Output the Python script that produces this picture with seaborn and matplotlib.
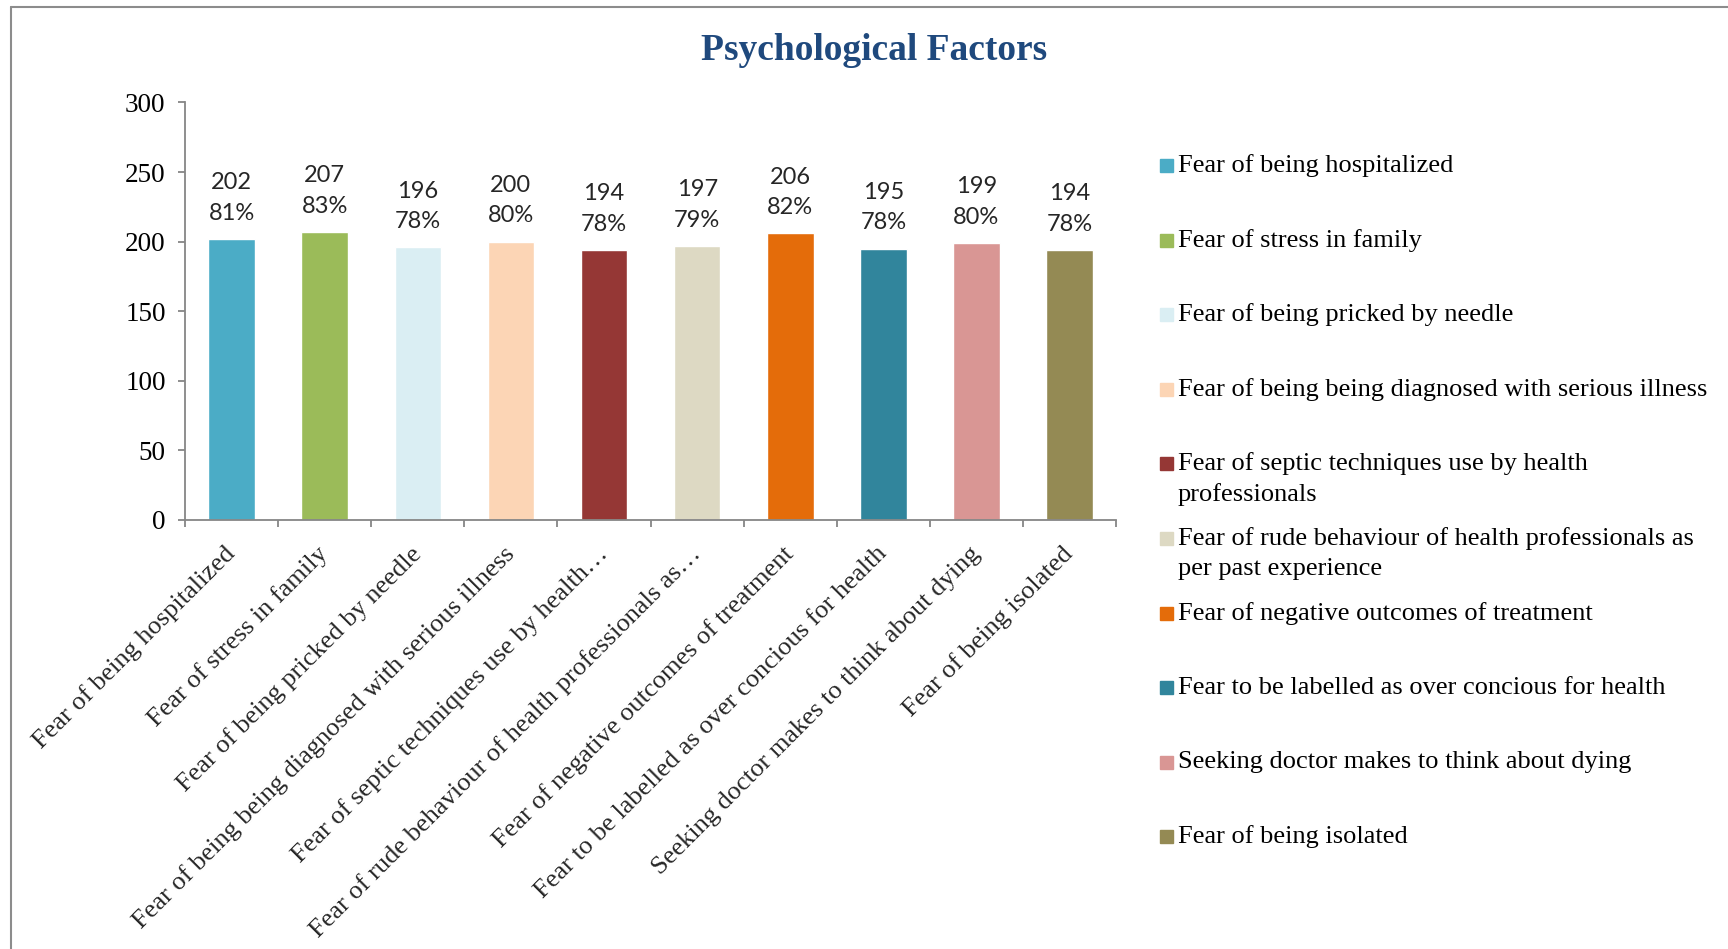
import matplotlib
matplotlib.use("Agg")
import matplotlib.pyplot as plt
import pandas as pd
import seaborn as sns
from matplotlib.lines import Line2D
from matplotlib.patches import Rectangle

# data
factors = [
    "Fear of being hospitalized",
    "Fear of stress in family",
    "Fear of being pricked by needle",
    "Fear of being being diagnosed with serious illness",
    "Fear of septic techniques use by health professionals",
    "Fear of rude behaviour of health professionals as per past experience",
    "Fear of negative outcomes of treatment",
    "Fear to be labelled as over concious for health",
    "Seeking doctor makes to think about dying",
    "Fear of being isolated",
]
counts = [202, 207, 196, 200, 194, 197, 206, 195, 199, 194]
percents = [81, 83, 78, 80, 78, 79, 82, 78, 80, 78]
tick_labels = [
    "Fear of being hospitalized",
    "Fear of stress in family",
    "Fear of being pricked by needle",
    "Fear of being being diagnosed with serious illness",
    "Fear of septic techniques use by health\u2026",
    "Fear of rude behaviour of health professionals as\u2026",
    "Fear of negative outcomes of treatment",
    "Fear to be labelled as over concious for health",
    "Seeking doctor makes to think about dying",
    "Fear of being isolated",
]
legend_labels = [
    "Fear of being hospitalized",
    "Fear of stress in family",
    "Fear of being pricked by needle",
    "Fear of being being diagnosed with serious illness",
    "Fear of septic techniques use by health\nprofessionals",
    "Fear of rude behaviour of health professionals as\nper past experience",
    "Fear of negative outcomes of treatment",
    "Fear to be labelled as over concious for health",
    "Seeking doctor makes to think about dying",
    "Fear of being isolated",
]
colors = ["#4BACC6", "#9BBB59", "#DAEEF3", "#FCD5B5", "#953735",
          "#DDD9C3", "#E46C0A", "#31859C", "#D99694", "#948A54"]

sns.set_theme(style="white")
plt.rcParams["font.family"] = ["Liberation Serif", "DejaVu Serif"]

df = pd.DataFrame({"factor": factors, "count": counts, "pct": percents})

fig = plt.figure(figsize=(17.28, 9.49), dpi=100)
ax = fig.add_axes([0.1071, 0.4521, 0.5388, 0.4399])

sns.barplot(data=df, x="factor", y="count", hue="factor", palette=colors,
            width=0.5, saturation=1, legend=False, ax=ax)

ax.set_xlim(-0.5, 9.5)
ax.set_ylim(0, 300)
ax.set_yticks(range(0, 301, 50))
ax.set_xlabel("")
ax.set_ylabel("")

axis_grey = "#868686"
for s in ["top", "right"]:
    ax.spines[s].set_visible(False)
for s in ["left", "bottom"]:
    ax.spines[s].set_color(axis_grey)
    ax.spines[s].set_linewidth(1.3)

ax.tick_params(axis="y", left=True, direction="out", length=5, width=1.3,
               color=axis_grey, labelsize=19.5, pad=9, labelcolor="black")

# labels at bar centres, tick marks between categories
ax.set_xticks(range(len(tick_labels)))
ax.set_xticklabels(tick_labels, rotation=45, ha="right", va="center",
                   rotation_mode="anchor", fontsize=19)
ax.set_xticks([i - 0.5 for i in range(len(tick_labels) + 1)], minor=True)
ax.tick_params(axis="x", which="major", length=0, pad=22)
ax.tick_params(axis="x", which="minor", bottom=True, direction="out",
               length=5, width=1.3, color=axis_grey)

for i, (c, p) in enumerate(zip(counts, percents)):
    ax.annotate(f"{c}\n{p}%", xy=(i, c), xytext=(0, 11), textcoords="offset points",
                ha="center", va="bottom", fontsize=17, family="Lato",
                linespacing=1.55)

fig.text(0.5058, 0.9465, "Psychological Factors", ha="center", va="center",
         fontsize=27, fontweight="bold", color="#1F497D")

# legend, one entry per category
sq_w, sq_h = 13 / 1728, 13 / 949
for k, (lab, col) in enumerate(zip(legend_labels, colors)):
    y = 1 - (165.5 + k * 74.6) / 949
    fig.patches.append(Rectangle((0.6748 - sq_w / 2, y - sq_h / 2), sq_w, sq_h,
                                 transform=fig.transFigure, color=col))
    for j, line in enumerate(lab.split("\n")):
        fig.text(0.6817, y - j * 31 / 949, line, ha="left", va="center",
                 fontsize=19, color="black")

# outer frame
frame_grey = "#8c8c8c"
fig.add_artist(Line2D([0.0064, 0.0064], [0, 0.9926], color=frame_grey, lw=1.5,
                      transform=fig.transFigure))
fig.add_artist(Line2D([0.0064, 1], [0.9926, 0.9926], color=frame_grey, lw=1.5,
                      transform=fig.transFigure))

fig.savefig("out.png", dpi=100)
